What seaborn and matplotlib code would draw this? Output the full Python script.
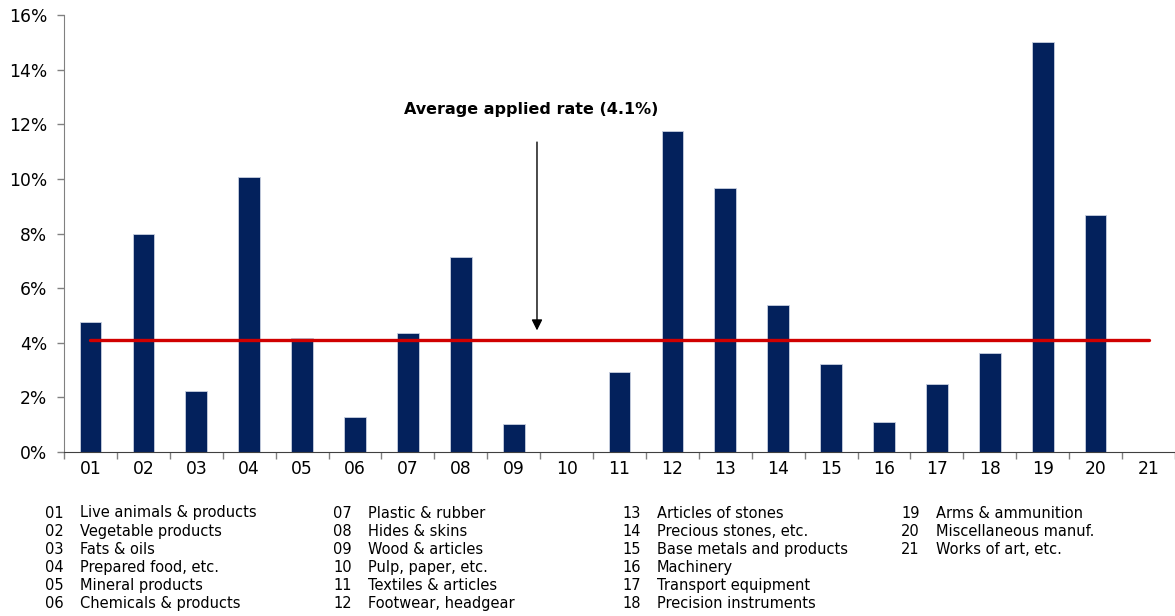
import numpy as np
import pandas as pd
import matplotlib
matplotlib.use("Agg")
import matplotlib.pyplot as plt
import seaborn as sns

# HS sections and average applied tariff (%)
codes = ["01", "02", "03", "04", "05", "06", "07", "08", "09", "10", "11",
         "12", "13", "14", "15", "16", "17", "18", "19", "20", "21"]
rates = [4.75, 8.0, 2.23, 10.07, 4.18, 1.28, 4.35, 7.14, 1.03, 0.0, 2.93,
         11.75, 9.67, 5.40, 3.24, 1.11, 2.49, 3.62, 15.0, 8.69, 0.0]
names = ["Live animals & products", "Vegetable products", "Fats & oils",
         "Prepared food, etc.", "Mineral products", "Chemicals & products",
         "Plastic & rubber", "Hides & skins", "Wood & articles",
         "Pulp, paper, etc.", "Textiles & articles", "Footwear, headgear",
         "Articles of stones", "Precious stones, etc.", "Base metals and products",
         "Machinery", "Transport equipment", "Precision instruments",
         "Arms & ammunition", "Miscellaneous manuf.", "Works of art, etc."]
avg_rate = 4.1
y_ticks = [0, 2, 4, 6, 8, 10, 12, 14, 16]

sns.set_style("white")
plt.rcParams['font.family'] = ['DejaVu Sans']
plt.rcParams['text.color'] = 'black'
plt.rcParams['xtick.labelcolor'] = 'black'
plt.rcParams['ytick.labelcolor'] = 'black'

df = pd.DataFrame({'code': codes, 'rate': rates})

fig = plt.figure(figsize=(11.75, 6.16), dpi=100)
ax = fig.add_axes([0.0545, 0.2662, 0.9455, 0.7094])

sns.barplot(data=df, x='code', y='rate', color='#03215C', width=0.41,
            saturation=1, edgecolor='#C8D0E0', linewidth=0.6, ax=ax)

# average line from first to last category centre
n = len(codes)
ax.plot([0, n - 1], [avg_rate, avg_rate], color='#D00000', lw=2.4, zorder=5)

ax.annotate("", xy=(8.44, avg_rate + 0.25), xytext=(8.44, 11.45),
            arrowprops=dict(arrowstyle='-|>', color='black', lw=1,
                            mutation_scale=16))
ax.text(8.33, 12.55, f"Average applied rate ({avg_rate}%)", ha='center',
        va='center', fontsize=11.5, fontweight='bold', color='black')

ax.set_xlim(-0.5, n - 0.5)
ax.set_ylim(0, 16)
ax.set_yticks(y_ticks)
ax.set_yticklabels([f"{v}%" for v in y_ticks], fontsize=12.3)
ax.set_xticks(range(n))
ax.set_xticklabels(codes, fontsize=12.3)
ax.set_xticks(np.arange(-0.5, n), minor=True)
ax.tick_params(axis='x', which='major', length=0, pad=6)
ax.tick_params(axis='x', which='minor', length=5, width=1, color='#808080',
               direction='out', bottom=True)
ax.tick_params(axis='y', length=5, width=1, color='#808080', direction='out',
               left=True, pad=7)
ax.set_xlabel("")
ax.set_ylabel("")
for s in ['top', 'right']:
    ax.spines[s].set_visible(False)
ax.spines['left'].set_color('#808080')
ax.spines['bottom'].set_color('#404040')

# legend of section names in four columns
col_x = [45, 333, 622, 901]
for i, (c, nm) in enumerate(zip(codes, names)):
    col, row = divmod(i, 6)
    y = 1 - (513 + row * 18.1) / 616
    fig.text(col_x[col] / 1175, y, c, fontsize=10.5, va='center')
    fig.text((col_x[col] + 35) / 1175, y, nm, fontsize=10.5, va='center')

fig.savefig("out.png", dpi=100)
